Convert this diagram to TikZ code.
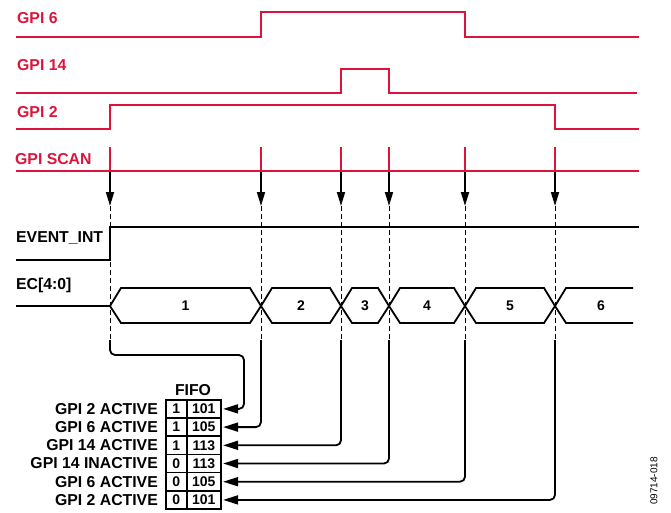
\documentclass[tikz,border=0pt]{standalone}
\usepackage{fontspec}
\setmainfont{Liberation Sans}
\usetikzlibrary{arrows.meta,positioning}
\definecolor{gpired}{RGB}{220,20,60}

\begin{document}
\begin{tikzpicture}[
  x=1pt, y=-1pt,
  sig/.style={draw=gpired, line width=2pt},
  wire/.style={draw=black, line width=1.8pt},
  guide/.style={draw=black, line width=1pt, dash pattern=on 5pt off 3pt},
  scanarrow/.style={wire, -{Triangle[length=14pt,width=8pt]}},
  fifoarrow/.style={wire, -{Triangle[length=15pt,width=9pt]}, rounded corners=5pt, shorten >=1.5pt},
  lbl/.style={font=\fontsize{15.8}{18}\selectfont\bfseries, inner sep=0pt, anchor=west},
  redlbl/.style={lbl, text=gpired},
  num/.style={font=\fontsize{14}{16}\selectfont\bfseries, inner sep=0pt},
  cell/.style={draw=black, line width=1.6pt, minimum height=18.2pt, inner sep=0pt, anchor=north west, num}
]
\useasboundingbox (0,0) rectangle (671,512);

% Signal names
\node[redlbl] (gpi6)  at (17,18)  {GPI 6};
\node[redlbl] (gpi14) at (17,65)  {GPI 14};
\node[redlbl] (gpi2)  at (17,112) {GPI 2};
\node[redlbl] (scan)  at (15,159) {GPI SCAN};
\node[lbl] (evint) at (16,238) {EVENT\_INT};
\node[lbl] (ec) at (16,285) {EC[4:0]};

% GPI waveforms
\draw[sig] (16,37) -- (261,37) -- (261,12) -- (465,12) -- (465,37) -- (639,37);
\draw[sig] (16,93) -- (341,93) -- (341,69) -- (389,69) -- (389,93) -- (637,93);
\draw[sig] (16,129) -- (110,129) -- (110,105) -- (555,105) -- (555,129) -- (639,129);
\draw[sig] (16,171) -- (639,171);

% Scan events
\foreach \x [count=\i] in {110,261,341,389,465,555} {
  \coordinate (s\i) at (\x,172);
  \coordinate (t\i) at (\x,206);
  \coordinate (e\i) at (\x,340);
  \draw[sig] (\x,147) -- (\x,171);
  \draw[scanarrow] (s\i) -- (t\i);
  \draw[guide] (t\i) -- (e\i);
}

% EVENT_INT
\draw[wire] (16,260) -- (110,260) -- (110,227) -- (639,227);

% EC[4:0] bus
\draw[wire] (16,306) -- (110,306);
\foreach \a/\b/\n in {110/261/1, 261/341/2, 341/389/3, 389/465/4, 465/555/5} {
  \draw[wire] (\a,306) -- (\a+11,288) -- (\b-11,288) -- (\b,306) -- (\b-11,323) -- (\a+11,323) -- cycle;
  \node[num] (ec\n) at ({(\a+\b)/2},306) {\n};
}
\draw[wire] (633,288) -- (566,288) -- (555,306) -- (566,323) -- (633,323);
\node[num] (ec6) at (601,306) {6};

% FIFO
\node[lbl, anchor=center] (fifo) at (193,390) {FIFO};
\foreach \f/\v/\t [count=\i] in {1/101/GPI 2 ACTIVE, 1/105/GPI 6 ACTIVE, 1/113/GPI 14 ACTIVE,
                                 0/113/GPI 14 INACTIVE, 0/105/GPI 6 ACTIVE, 0/101/GPI 2 ACTIVE} {
  \node[cell, minimum width=21pt] (f\i) at (165,{399+18.2*(\i-1)}) {\f};
  \node[cell, minimum width=34pt] (v\i) at (186,{399+18.2*(\i-1)}) {\v};
  \node[lbl, anchor=east, left=7pt of f\i] (l\i) {\t};
}

% Routing to FIFO
\coordinate (bend) at (244,355);
\draw[fifoarrow] (e1) |- (bend) |- (v1.east);
\foreach \i in {2,...,6} {
  \draw[fifoarrow] (e\i) |- (v\i.east);
}

\node[rotate=90, font=\fontsize{10}{12}\selectfont] (fig) at (654,481) {09714-018};

\end{tikzpicture}
\end{document}
